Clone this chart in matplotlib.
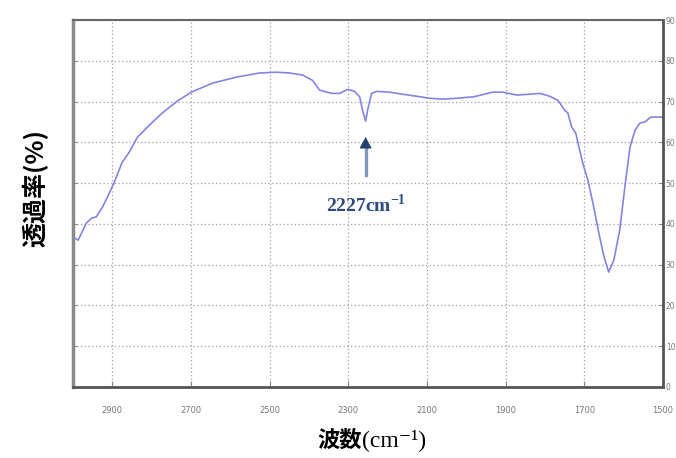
import matplotlib
matplotlib.use("Agg")
import matplotlib.pyplot as plt

# IR spectrum (wavenumber cm-1, transmittance %)
wavenumber = [3000, 2987, 2966, 2953, 2941, 2925, 2908, 2895, 2875, 2857,
              2836, 2806, 2773, 2735, 2699, 2646, 2584, 2526, 2483, 2450,
              2416, 2391, 2373, 2355, 2340, 2322, 2302, 2284, 2271, 2264,
              2256, 2251, 2241, 2228, 2195, 2162, 2126, 2093, 2060, 2024,
              1991, 1984, 1933, 1907, 1872, 1839, 1813, 1788, 1767, 1750,
              1742, 1732, 1722, 1704, 1691, 1676, 1663, 1650, 1638, 1625,
              1610, 1597, 1584, 1571, 1559, 1546, 1531, 1513, 1500]
transmittance = [36.8, 36.0, 40.2, 41.4, 41.7, 44.1, 47.5, 50.2, 55.1, 57.6,
                 61.3, 64.2, 67.2, 70.1, 72.3, 74.5, 76.0, 77.0, 77.2, 77.0,
                 76.5, 75.2, 72.8, 72.3, 72.0, 72.0, 73.0, 72.5, 71.1, 67.9,
                 65.2, 67.9, 72.0, 72.5, 72.3, 71.8, 71.3, 70.8, 70.6, 70.8,
                 71.1, 71.1, 72.3, 72.3, 71.6, 71.8, 72.0, 71.3, 70.3, 67.9,
                 67.2, 63.7, 62.3, 54.9, 50.7, 44.1, 37.7, 31.9, 28.2, 31.1,
                 38.5, 49.0, 58.8, 63.0, 64.7, 65.0, 66.2, 66.2, 66.2]

x_ticks = [2900, 2700, 2500, 2300, 2100, 1900, 1700, 1500]
y_ticks = [0, 10, 20, 30, 40, 50, 60, 70, 80, 90]

peak_label = "2227cm$^{\\mathregular{-1}}$"
peak_x = 2256

plt.rcParams['mathtext.fontset'] = 'stix'

fig = plt.figure(figsize=(6.76, 4.58), dpi=100)
ax = fig.add_axes([73 / 676, 1 - 387 / 458, 590 / 676, 367 / 458])

ax.plot(wavenumber, transmittance, color="#8484e6", lw=1.2)

ax.set_xlim(3000, 1500)
ax.set_ylim(0, 90)
ax.set_xticks(x_ticks)
ax.set_yticks(y_ticks)
ax.set_xticklabels([str(t) for t in x_ticks], fontsize=6, color="#777777")
ax.set_yticklabels([str(t) for t in y_ticks], fontsize=5.5, color="#777777")
ax.yaxis.tick_right()
ax.tick_params(axis="x", direction="in", length=4, color="#888888", pad=14)
ax.tick_params(axis="y", direction="in", length=3, color="#888888", pad=2,
               left=True, right=True)

ax.grid(True, color="#a89fa8", linestyle=(0, (1, 2)), linewidth=0.9)
ax.spines["left"].set_color("#8a8a8a")
ax.spines["left"].set_linewidth(2.5)
for s in ["bottom", "right"]:
    ax.spines[s].set_color("#555555")
    ax.spines[s].set_linewidth(2)
ax.spines["top"].set_color("#666666")
ax.spines["top"].set_linewidth(1.5)

# arrow: pale shaft, dark head
ax.plot([peak_x, peak_x], [52, 58.5], color="#7f98bb", lw=2.4)
ax.annotate("", xy=(peak_x, 62), xytext=(peak_x, 58),
            arrowprops=dict(arrowstyle="-|>,head_width=0.4,head_length=0.75",
                            color="#24406e", lw=0.5))
ax.text(peak_x, 44.5, peak_label, ha="center", va="center", fontsize=14,
        fontweight="bold", color="#2c4a7c", family="Liberation Serif")

fig.text(35 / 676, 1 - 188 / 458, "透過率(%)", rotation=90, ha="center",
         va="center", fontsize=18, fontweight="bold",
         family=["Noto Sans CJK JP", "DejaVu Sans"])
fig.text(362 / 676, 1 - 440 / 458, "波数", ha="right",
         va="center", fontsize=16, fontweight="bold",
         family=["Noto Sans CJK JP", "DejaVu Sans"])
fig.text(362 / 676, 1 - 440 / 458, "(cm\u207b\u00b9)", ha="left",
         va="center", fontsize=17,
         family=["Liberation Serif", "DejaVu Sans"])

fig.savefig("out.png", dpi=100, facecolor="white")
